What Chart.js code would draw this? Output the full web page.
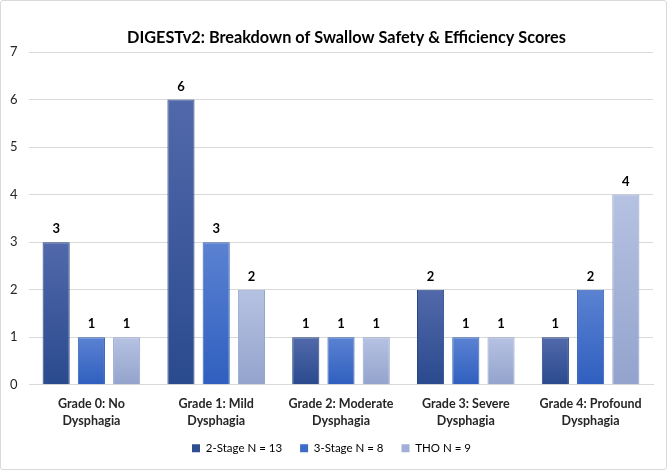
<!DOCTYPE html>
<html>
<head>
<meta charset="utf-8">
<script src="https://cdn.jsdelivr.net/npm/chart.js@4/dist/chart.umd.min.js"></script>
<style>
html,body{margin:0;padding:0;background:#fff;}
#wrap{position:relative;width:665px;height:468px;border:1px solid #d9d9d9;border-radius:3px;}
</style>
</head>
<body>
<div id="wrap"><canvas id="c" width="665" height="468"></canvas></div>
<script>
const categories = [["Grade 0: No","Dysphagia"],["Grade 1: Mild","Dysphagia"],["Grade 2: Moderate","Dysphagia"],["Grade 3: Severe","Dysphagia"],["Grade 4: Profound","Dysphagia"]];
const seriesNames = ["2-Stage N = 13","3-Stage N = 8","THO N = 9"];
const twoStage = [3,6,1,2,1];
const threeStage = [1,3,1,1,2];
const tho = [1,2,1,1,4];
const yTicks = [0,1,2,3,4,5,6,7];
const titleText = "DIGESTv2: Breakdown of Swallow Safety & Efficiency Scores";

const gradStops = [
  ["#5169aa","#2a4a8e"],
  ["#5b82d2","#2f5fbf"],
  ["#b6c2e2","#93a3cc"]
];
const solid = ["#2f4f91","#3d6cc8","#a2b0d8"];

function grad(idx){
  return function(ctx){
    const chart = ctx.chart;
    if(!chart.chartArea || ctx.type !== 'data') return solid[idx];
    const ys = chart.scales.y;
    const v = ctx.raw;
    const top = ys.getPixelForValue(v);
    const bot = ys.getPixelForValue(0);
    if(!isFinite(top) || !isFinite(bot) || bot-top < 1) return solid[idx];
    const g = chart.ctx.createLinearGradient(0, top, 0, bot);
    g.addColorStop(0, gradStops[idx][0]);
    g.addColorStop(1, gradStops[idx][1]);
    return g;
  };
}

const labelPlugin = {
  id:'vals',
  afterLayout(chart){
    const l = chart.legend;
    if(l){ l.top -= 5; l.bottom -= 5; if(l.adjustHitBoxes) l.adjustHitBoxes(); }
  },
  afterDatasetsDraw(chart){
    const c = chart.ctx;
    c.save();
    c.font = "bold 13px Lato";
    c.fillStyle = "#000";
    c.textAlign = "center";
    c.textBaseline = "middle";
    chart.data.datasets.forEach((ds,i)=>{
      const meta = chart.getDatasetMeta(i);
      meta.data.forEach((bar,j)=>{
        c.fillText(String(ds.data[j]), bar.x, bar.y - 13);
      });
    });
    c.font = "bold 16.3px Lato";
    c.fillText(titleText, chart.width/2 + 13, 37);
    c.restore();
  }
};

new Chart(document.getElementById('c'), {
  type:'bar',
  data:{
    labels: categories,
    datasets:[
      {label:seriesNames[0], data:twoStage, backgroundColor:grad(0), borderColor:"#2a4584", borderWidth:1},
      {label:seriesNames[1], data:threeStage, backgroundColor:grad(1), borderColor:"#3660b4", borderWidth:1},
      {label:seriesNames[2], data:tho, backgroundColor:grad(2), borderColor:"#97a6cf", borderWidth:1}
    ]
  },
  options:{
    responsive:false,
    animation:false,
    devicePixelRatio:1,
    layout:{padding:{left:9,right:13,top:51,bottom:0}},
    datasets:{bar:{categoryPercentage:0.847,barPercentage:0.77}},
    plugins:{
      title:{display:false},
      legend:{position:'bottom',labels:{boxWidth:8,boxHeight:8,font:{family:"Lato",size:11.5},color:"#404040",padding:18,
        generateLabels(chart){
          return seriesNames.map((n,i)=>({text:n,fillStyle:solid[i],strokeStyle:solid[i],lineWidth:0,datasetIndex:i,hidden:false}));
        }}},
      tooltip:{enabled:false}
    },
    scales:{
      x:{afterFit(axis){axis.height = axis.height - 11;},
        grid:{display:false,drawTicks:false},border:{color:"#d9d9d9"},ticks:{font:{family:"Lato",size:12.5,weight:"bold",lineHeight:1.35},color:"#262626",maxRotation:0,padding:11}},
      y:{min:0,max:7,afterBuildTicks(axis){axis.ticks=yTicks.map(v=>({value:v}));},
        afterFit(axis){axis.width = 19;},
        grid:{color:"#d9d9d9",drawTicks:false},border:{display:false},
        ticks:{font:{family:"Lato",size:13},color:"#262626",padding:10,crossAlign:'far'}}
    }
  },
  plugins:[labelPlugin]
});
</script>
</body>
</html>
